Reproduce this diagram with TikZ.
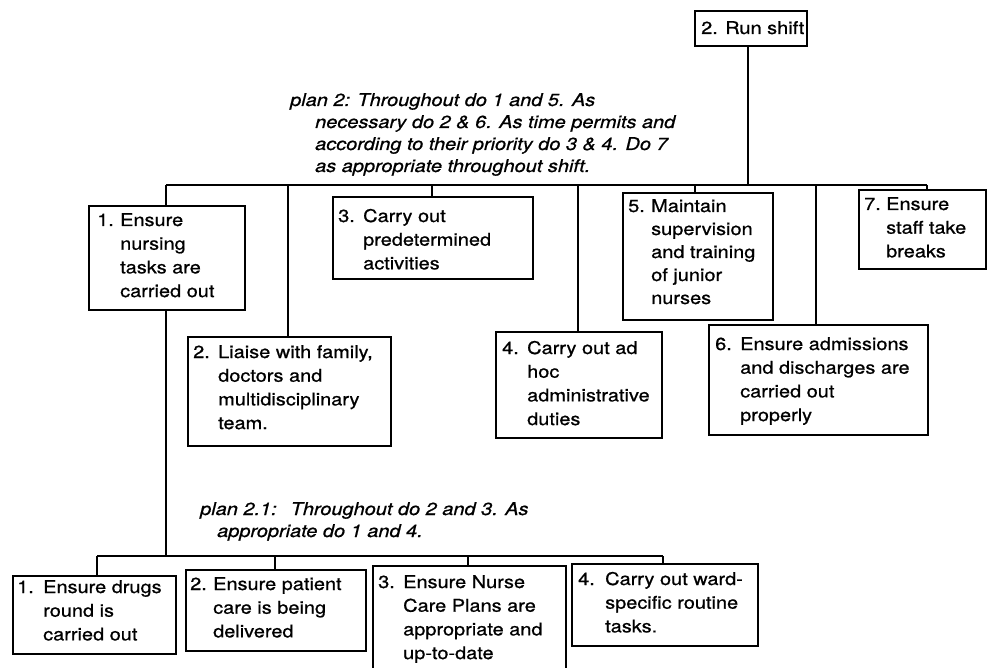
\documentclass[tikz,border=0pt]{standalone}
\usepackage{fontspec}
\setmainfont{TeX Gyre Heros}[FakeStretch=1.14, FakeBold=0.8]

% numbered entry with a hanging indent: number, then lines separated by \\&
\newcommand{\numitem}[3][24pt]{%
  \begin{tabular}[t]{@{}l@{}l@{}}\makebox[#1][l]{#2}&#3\end{tabular}}

\begin{document}
\begin{tikzpicture}[x=1pt,y=-1pt,
  box/.style={draw, line width=2pt, inner sep=0pt, anchor=north west},
  txt/.style={inner sep=0pt, anchor=base west, align=left,
              font=\fontsize{17.5}{23.7}\selectfont},
  plantxt/.style={txt, font=\fontsize{17.5}{22}\selectfont\itshape},
  link/.style={line width=2pt}]
\useasboundingbox (0,0) rectangle (987,668);
\fill[white] (0,0) rectangle (987,668);
\clip (0,0) rectangle (987,668);

% ---- top task ----
\node[box, minimum width=112pt, minimum height=35pt] (root) at (694,10) {};
\node[txt] (root-t) at (701,34) {2. Run shift};

% ---- level 1 subtasks ----
\node[box, minimum width=156pt, minimum height=104pt] (b1) at (88,205) {};
\node[txt] (b1-t) at (97,226) {\numitem[23pt]{1.}{Ensure\\&nursing\\&tasks are\\&carried out}};

\node[box, minimum width=203pt, minimum height=109pt] (b2) at (187,336) {};
\node[txt] (b2-t) at (193,358) {\numitem[25pt]{2.}{Liaise with family,\\&doctors and\\&multidisciplinary\\&team.}};

\node[box, minimum width=200pt, minimum height=82pt] (b3) at (332,196) {};
\node[txt] (b3-t) at (338,222) {\numitem[25pt]{3.}{Carry out\\&predetermined\\&activities}};

\node[box, minimum width=166pt, minimum height=106pt] (b4) at (495,331) {};
\node[txt] (b4-t) at (502,354) {\numitem[25pt]{4.}{Carry out ad\\&hoc\\&administrative\\&duties}};

\node[box, minimum width=150pt, minimum height=127pt] (b5) at (622,192) {};
\node[txt, font=\fontsize{17.5}{23}\selectfont] (b5-t) at (628,212) {\numitem[23pt]{5.}{Maintain\\&supervision\\&and training\\&of junior\\&nurses}};

\node[box, minimum width=219pt, minimum height=110pt] (b6) at (708,324) {};
\node[txt] (b6-t) at (715,350) {\numitem[25pt]{6.}{Ensure admissions\\&and discharges are\\&carried out\\&properly}};

\node[box, minimum width=127pt, minimum height=79pt] (b7) at (858,189) {};
\node[txt] (b7-t) at (864,210) {\numitem[22pt]{7.}{Ensure\\&staff take\\&breaks}};

% ---- level 2 subtasks (under task 1) ----
\node[box, minimum width=163pt, minimum height=78pt] (c1) at (12,575) {};
\node[txt] (c1-t) at (17,593) {\numitem[26pt]{1.}{Ensure drugs\\&round is\\&carried out}};

\node[box, minimum width=180pt, minimum height=81pt] (c2) at (185,569) {};
\node[txt] (c2-t) at (190,590) {\numitem[23pt]{2.}{Ensure patient\\&care is being\\&delivered}};

\node[box, minimum width=193pt, minimum height=125pt] (c3) at (372,565) {};
\node[txt] (c3-t) at (378,588) {\numitem[25pt]{3.}{Ensure Nurse\\&Care Plans are\\&appropriate and\\&up-to-date}};

\node[box, minimum width=186pt, minimum height=82pt] (c4) at (571,563) {};
\node[txt] (c4-t) at (578,585) {\numitem[27pt]{4.}{Carry out ward-\\&specific routine\\&tasks.}};

% ---- plans ----
\node[plantxt] (plan2) at (290,106) {\begin{tabular}[t]{@{}l@{}}plan 2: Throughout do 1 and 5. As\\
  \hspace*{25pt}necessary do 2 \& 6. As time permits and\\
  \hspace*{25pt}according to their priority do 3 \& 4. Do 7\\
  \hspace*{25pt}as appropriate throughout shift.\end{tabular}};

\node[plantxt] (plan21) at (200,515) {\begin{tabular}[t]{@{}l@{}}plan 2.1:\hspace{0.8em}Throughout do 2 and 3. As\\
  \hspace*{17pt}appropriate do 1 and 4.\end{tabular}};

% ---- connectors, level 1 ----
\coordinate (j1) at (166,185);
\coordinate (j2) at (288,185);
\coordinate (j3) at (432,185);
\coordinate (j4) at (578,185);
\coordinate (j5) at (695,185);
\coordinate (j6) at (816,185);
\coordinate (j7) at (927,185);
\draw[link] (root.south -| 748,0) -- (748,185);
\draw[link] (j1) -- (j7);
\foreach \i in {1,...,7} {\draw[link] (j\i) -- (j\i |- b\i.north);}

% ---- connectors, level 2 ----
\coordinate (k1) at (97,556);
\coordinate (k2) at (275,556);
\coordinate (k3) at (468,556);
\coordinate (k4) at (663,556);
\draw[link] (b1.south -| j1) -- (j1 |- k1);
\draw[link] (k1) -- (k4);
\foreach \i in {1,...,4} {\draw[link] (k\i) -- (k\i |- c\i.north);}
\end{tikzpicture}
\end{document}
